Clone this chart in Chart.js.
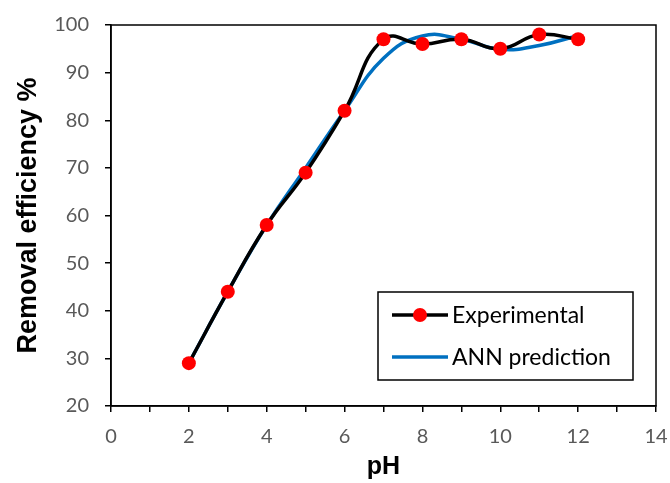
<!DOCTYPE html>
<html>
<head>
<meta charset="utf-8">
<script src="https://cdn.jsdelivr.net/npm/chart.js@4"></script>
<style>
  html, body { margin: 0; padding: 0; background: #fff; }
  #wrap { width: 670px; height: 483px; }
</style>
</head>
<body>
<div id="wrap"><canvas id="phChart" width="670" height="483"></canvas></div>
<script>
// pH values and removal efficiency (%)
const phValues = [2, 3, 4, 5, 6, 7, 8, 9, 10, 11, 12];
const experimental = [29, 44, 58, 69, 82, 97, 96, 97, 95, 98, 97];
const annPrediction = [29, 44, 58, 70, 82, 93, 97.7, 97, 94.9, 95.7, 97.8];

const seriesLabels = ['Experimental', 'ANN prediction'];
const xTitle = 'pH';
const yTitle = 'Removal efficiency %';

const tickFont = { family: 'Lato, "Open Sans", sans-serif', size: 20 };
const yTitleFont = { family: '"Liberation Sans", Arial, sans-serif', size: 27, weight: 'bold' };
const xTitleFont = { family: '"Liberation Sans", Arial, sans-serif', size: 25, weight: 'bold' };

// box around the plot area (top + right edges)
const frame = {
  id: 'frame',
  afterDraw(chart) {
    const { ctx, chartArea } = chart;
    ctx.save();
    ctx.strokeStyle = '#000';
    ctx.lineWidth = 1.5;
    ctx.strokeRect(chartArea.left, chartArea.top, chartArea.right - chartArea.left, chartArea.bottom - chartArea.top);
    ctx.restore();
  },
};

// legend drawn inside the plot, lower right
const innerLegend = {
  id: 'innerLegend',
  afterDraw(chart) {
    const { ctx } = chart;
    const x0 = 378, y0 = 292, w = 255, h = 88;
    ctx.save();
    ctx.fillStyle = '#fff';
    ctx.fillRect(x0, y0, w, h);
    ctx.strokeStyle = '#000';
    ctx.lineWidth = 1.5;
    ctx.strokeRect(x0, y0, w, h);
    ctx.font = '23px Lato, "Open Sans", sans-serif';
    ctx.textBaseline = 'middle';
    chart.data.datasets.forEach((ds, i) => {
      const y = y0 + 23 + i * 42;
      ctx.strokeStyle = ds.borderColor;
      ctx.lineWidth = ds.borderWidth;
      ctx.beginPath();
      ctx.moveTo(x0 + 14, y);
      ctx.lineTo(x0 + 70, y);
      ctx.stroke();
      if (ds.pointRadius > 0) {
        ctx.fillStyle = ds.pointBackgroundColor;
        ctx.beginPath();
        ctx.arc(x0 + 42, y, ds.pointRadius, 0, Math.PI * 2);
        ctx.fill();
      }
      ctx.fillStyle = '#000';
      ctx.fillText(ds.label, x0 + 74, y + 1);
    });
    ctx.restore();
  },
};

const ctx = document.getElementById('phChart');

// eslint-disable-next-line no-undef
new Chart(ctx, {
  type: 'line',
  data: {
    datasets: [
      {
        label: seriesLabels[0],
        data: phValues.map((x, i) => ({ x: x, y: experimental[i] })),
        borderColor: '#000',
        borderWidth: 3.5,
        pointRadius: 7,
        pointBackgroundColor: '#ff0000',
        pointBorderColor: '#ff0000',
        pointBorderWidth: 0,
        tension: 0.45,
      },
      {
        label: seriesLabels[1],
        data: phValues.map((x, i) => ({ x: x, y: annPrediction[i] })),
        borderColor: '#0070c0',
        borderWidth: 3.5,
        pointRadius: 0,
        tension: 0.45,
      },
    ],
  },
  options: {
    responsive: false,
    animation: false,
    layout: { padding: 0 },
    plugins: {
      legend: { display: false },
      tooltip: { enabled: false },
    },
    scales: {
      x: {
        type: 'linear',
        min: 0,
        max: 14,
        afterFit: (s) => {
          s.height = 77;
          s.paddingLeft = 0;
          s.paddingRight = 14;
        },
        ticks: {
          stepSize: 1,
          color: '#595959',
          font: tickFont,
          padding: 13,
          maxRotation: 0,
          callback: (v) => (v % 2 === 0 ? v : ''),
        },
        grid: { drawOnChartArea: false, drawTicks: true, tickLength: 6, color: '#000', lineWidth: 1.5 },
        border: { display: true, color: '#000', width: 1.5 },
        title: { display: true, text: xTitle, color: '#000', font: xTitleFont, padding: { top: 0, bottom: 1 } },
      },
      y: {
        min: 20,
        max: 100,
        afterFit: (s) => {
          s.width = 111;
          s.paddingTop = 25;
          s.paddingBottom = 0;
        },
        ticks: {
          stepSize: 5,
          color: '#595959',
          font: tickFont,
          padding: 16,
          callback: (v) => (v % 10 === 0 ? v : ''),
        },
        grid: { drawOnChartArea: false, drawTicks: true, tickLength: 6, color: '#000', lineWidth: 1.5 },
        border: { display: true, color: '#000', width: 1.5 },
        title: { display: true, text: yTitle, color: '#000', font: yTitleFont, padding: { top: 12, bottom: 0 } },
      },
    },
  },
  plugins: [frame, innerLegend],
});
</script>
</body>
</html>
